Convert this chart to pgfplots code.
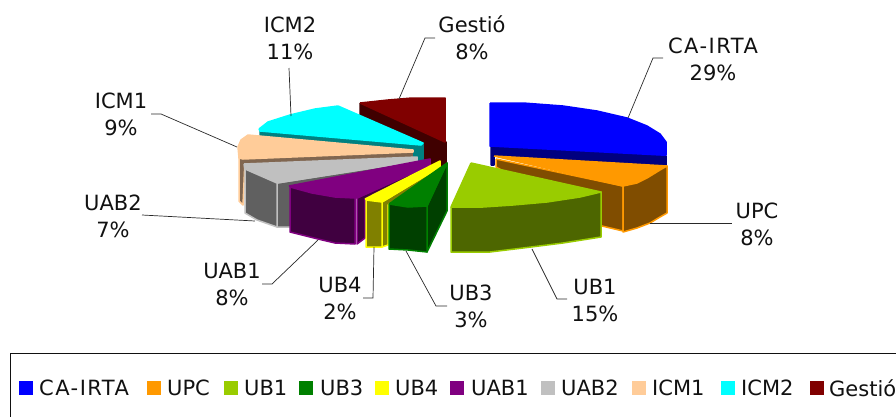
\documentclass[border=0pt]{standalone}
\usepackage{fontspec}
\setmainfont{DejaVu Sans}
\newfontfamily\widefont[LetterSpace=7]{DejaVu Sans}
\usepackage{pgfplots}
\pgfplotsset{compat=1.18}
\definecolor{cblue}{HTML}{0000FF}\definecolor{dblue}{HTML}{000080}
\definecolor{corange}{HTML}{FF9900}\definecolor{dorange}{HTML}{804D00}
\definecolor{clime}{HTML}{99CC00}\definecolor{dlime}{HTML}{4D6600}
\definecolor{cgreen}{HTML}{008000}\definecolor{dgreen}{HTML}{004000}
\definecolor{cyellow}{HTML}{FFFF00}\definecolor{dyellow}{HTML}{808000}
\definecolor{cpurple}{HTML}{800080}\definecolor{dpurple}{HTML}{400040}
\definecolor{cgrey}{HTML}{C0C0C0}\definecolor{dgrey}{HTML}{606060}
\definecolor{cpeach}{HTML}{FFCC99}\definecolor{dpeach}{HTML}{806650}
\definecolor{ccyan}{HTML}{00FFFF}\definecolor{dcyan}{HTML}{008080}
\definecolor{cmaroon}{HTML}{800000}\definecolor{dmaroon}{HTML}{400000}
\definecolor{ink}{HTML}{111111}
\pgfplotsset{
  face/.style 2 args={no marks, draw=#1, fill=#2, line width=1.5pt, line join=round},
  leader/.style={no marks, draw=ink!90, line width=0.7pt, line join=miter},
  key/.style={only marks, mark=square*, mark size=6.5pt, mark options={draw=#1, fill=#1}},
}
\newcommand{\lab}[3]{\node[align=center, inner sep=0pt, text=ink, font=\fontsize{21pt}{27pt}\selectfont] at (axis cs:#1,#2) {#3};}
\newcommand{\keytext}[2]{\node[anchor=west, inner sep=0pt, text=ink, font=\fontsize{21pt}{24pt}\selectfont] at (axis cs:#1,388) {#2};}
\begin{document}
\begin{tikzpicture}
\path[use as bounding box] (0,0) rectangle (896pt,416pt);
\begin{axis}[
    at={(0,0)}, anchor=south west,
    scale only axis, width=896pt, height=416pt,
    xmin=0, xmax=896, ymin=0, ymax=416, y dir=reverse,
    hide axis]
  % right half, back to front
  \addplot[face={dblue}{dblue}] coordinates {(491,147)(661,156)(666,156)(666,165)(494,156)(494,165)(491,165)(491,147)};
  \addplot[face={cblue}{cblue}] coordinates {(490,103)(523,103)(563,106)(597,111)(627,118)(647,126)(660,134)(666,142)(666,155)(661,155)(490,146)(490,103)};
  \addplot[face={corange}{dorange}] coordinates {(496,159)(623,186)(623,231)(602,226)(496,167)(496,159)};
  \addplot[face={corange}{corange}] coordinates {(494,156)(667,166)(660,170)(647,178)(637,183)(623,186)(494,156)};
  \addplot[face={corange}{dorange}] coordinates {(623,186)(637,183)(647,178)(660,170)(667,166)(667,213)(660,217)(650,223)(637,228)(623,232)(623,186)};
  \addplot[face={clime}{clime}] coordinates {(471,163)(601,192)(580,197)(547,202)(513,205)(483,207)(451,207)(471,163)};
  \addplot[face={clime}{dlime}] coordinates {(451,207)(483,207)(513,205)(547,202)(580,197)(601,192)(601,237)(563,243)(523,248)(490,252)(451,252)(451,207)};
  % left half, back to front
  \addplot[face={dmaroon}{dmaroon}] coordinates {(360,103)(446,142)(446,165)(425,165)(360,115)(360,103)};
  \addplot[face={cmaroon}{cmaroon}] coordinates {(360,103)(388,100)(412,98)(445,98)(445,142)(360,103)};
  \addplot[face={dcyan}{dcyan}] coordinates {(260,131)(421,145)(423,143)(423,161)(413,161)(413,150)(260,135)(260,131)};
  \addplot[face={ccyan}{ccyan}] coordinates {(259,129)(268,122)(290,115)(315,109)(338,106)(423,143)(421,145)(260,131)(259,129)};
  \addplot[face={cpeach}{dpeach}] coordinates {(239,148)(239,201)(243,205)(245,160)(239,148)};
  \addplot[face={dpeach}{dpeach}] coordinates {(243,159)(412,152)(412,157)(243,164)(243,159)};
  \addplot[face={cpeach}{cpeach}] coordinates {(238,147)(241,140)(248,135)(413,150)(413,152)(243,159)(239,158)(238,147)};
  \addplot[face={cgrey}{dgrey}] coordinates {(277,183)(417,161)(417,170)(360,185)(290,227)(277,227)(277,183)};
  \addplot[face={cgrey}{cgrey}] coordinates {(244,164)(417,157)(417,161)(277,183)(258,176)(245,169)(244,164)};
  \addplot[face={cgrey}{dgrey}] coordinates {(245,169)(277,183)(277,227)(257,220)(245,213)(245,169)};
  \addplot[face={cpurple}{dpurple}] coordinates {(357,198)(430,165)(430,172)(365,200)(365,238)(357,244)(357,198)};
  \addplot[face={cpurple}{cpurple}] coordinates {(289,186)(430,159)(430,165)(357,198)(335,197)(312,193)(289,186)};
  \addplot[face={cpurple}{dpurple}] coordinates {(290,187)(312,193)(335,197)(355,198)(355,244)(335,243)(318,239)(302,235)(290,232)(290,187)};
  \addplot[face={cyellow}{dyellow}] coordinates {(382,202)(440,167)(440,172)(388,205)(388,245)(382,247)(382,202)};
  \addplot[face={cyellow}{cyellow}] coordinates {(365,199)(440,161)(440,167)(382,202)(365,199)};
  \addplot[face={cyellow}{dyellow}] coordinates {(366,200)(382,202)(382,247)(366,247)(366,200)};
  \addplot[face={cgreen}{dgreen}] coordinates {(427,206)(447,163)(447,211)(427,252)(427,206)};
  \addplot[face={cgreen}{cgreen}] coordinates {(389,204)(447,163)(427,206)(408,207)(389,204)};
  \addplot[face={cgreen}{dgreen}] coordinates {(389,204)(408,207)(427,206)(427,252)(408,250)(389,249)(389,204)};
  % leader lines
  \addplot[leader] coordinates {(628,118)(653,58)(663,58)};
  \addplot[leader] coordinates {(650,223)(732,223)};
  \addplot[leader] coordinates {(532,249)(557,299)(567,299)};
  \addplot[leader] coordinates {(406,251)(436,306)(447,306)};
  \addplot[leader] coordinates {(374,247)(373,298)(363,298)};
  \addplot[leader] coordinates {(318,240)(272,284)(262,284)};
  \addplot[leader] coordinates {(255,221)(142,215)};
  \addplot[leader] coordinates {(237,147)(161,114)(151,114)};
  \addplot[leader] coordinates {(291,116)(289,68)};
  \addplot[leader] coordinates {(399,99)(425,38)(435,38)};
  % labels
  \lab{713}{59}{{\widefont CA-IRTA}\\29\%}
  \lab{757}{224}{UPC\\8\%}
  \lab{595}{300}{UB1\\15\%}
  \lab{471}{306}{UB3\\3\%}
  \lab{340}{298}{UB4\\2\%}
  \lab{232}{284}{UAB1\\8\%}
  \lab{113}{216}{UAB2\\7\%}
  \lab{121}{114}{ICM1\\9\%}
  \lab{290}{38}{ICM2\\11\%}
  \lab{472}{38}{Gestió\\8\%}
  % legend
  \addplot[no marks, draw=ink, line width=0.9pt] coordinates {(10,425)(10,353)(905,353)};
  \addplot[key=cblue] coordinates {(26,388)};
  \addplot[key=corange] coordinates {(153.5,388)};
  \addplot[key=clime] coordinates {(230.5,388)};
  \addplot[key=cgreen] coordinates {(306,388)};
  \addplot[key=cyellow] coordinates {(381.5,388)};
  \addplot[key=cpurple] coordinates {(456.5,388)};
  \addplot[key=cgrey] coordinates {(547.5,388)};
  \addplot[key=cpeach] coordinates {(638.5,388)};
  \addplot[key=ccyan] coordinates {(727.5,388)};
  \addplot[key=cmaroon] coordinates {(816.5,388)};
  \keytext{39}{\widefont CA-IRTA}
  \keytext{167}{UPC}
  \keytext{244}{UB1}
  \keytext{320}{UB3}
  \keytext{395}{UB4}
  \keytext{471}{UAB1}
  \keytext{561}{UAB2}
  \keytext{652}{ICM1}
  \keytext{741}{ICM2}
  \keytext{829}{Gestió}
\end{axis}
\end{tikzpicture}
\end{document}
